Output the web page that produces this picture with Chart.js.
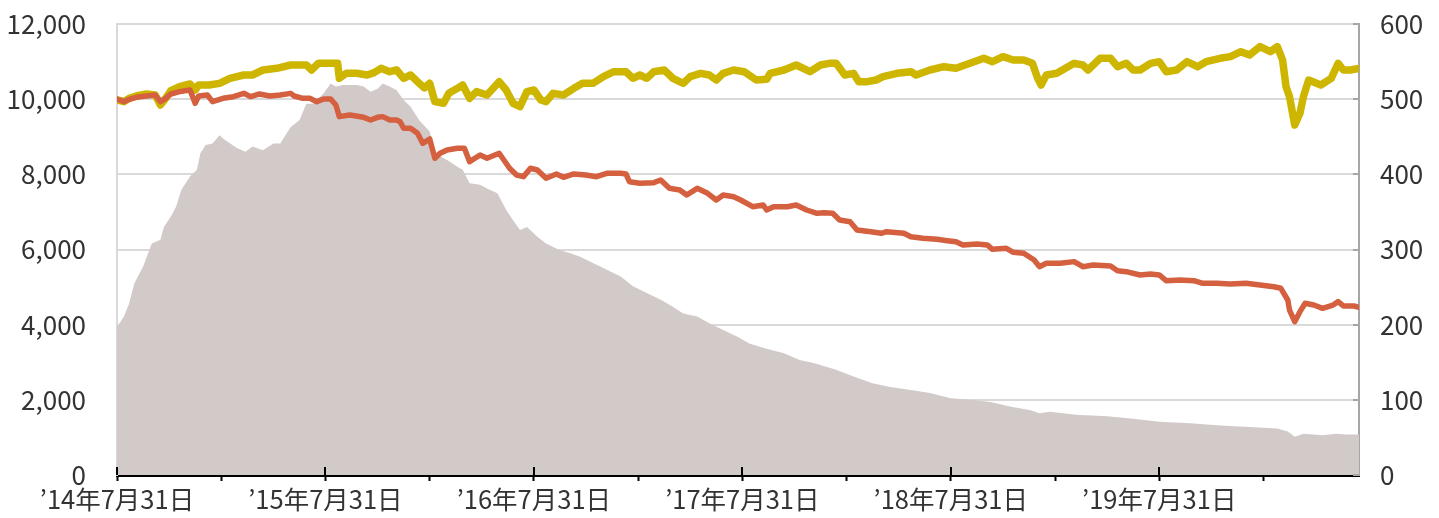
<!DOCTYPE html>
<html>
<head>
<meta charset="utf-8">
<script src="https://cdn.jsdelivr.net/npm/chart.js@4.4.1/dist/chart.umd.min.js"></script>
<style>
  html, body { margin: 0; padding: 0; background: #fff; }
  #wrap { width: 1439px; height: 518px; }
</style>
</head>
<body>
<div id="wrap"><canvas id="myChart" width="1439" height="518"></canvas></div>
<script>
// x = months since '14/7/31
const xTickLabels = ['’14年7月31日', '’15年7月31日', '’16年7月31日', '’17年7月31日', '’18年7月31日', '’19年7月31日'];

// 純資産総額 (right axis)
const assetX = [0.0, 0.4, 0.7, 1.0, 1.5, 2.0, 2.5, 2.7, 3.1, 3.4, 3.7, 4.2, 4.6, 4.8, 5.1, 5.5, 5.9, 6.2, 6.9, 7.4,
  7.8, 8.4, 9.0, 9.4, 10.0, 10.5, 10.9, 11.3, 11.9, 12.3, 12.6, 13.0, 13.8, 14.2, 14.6, 15.0, 15.3, 15.7, 16.1, 16.5,
  16.9, 17.4, 18.0, 18.3, 19.0, 19.6, 19.9, 20.3, 20.9, 21.3, 21.9, 22.4, 22.8, 23.2, 23.6, 24.2, 24.7, 25.5, 26.1, 26.7,
  27.4, 28.2, 29.0, 29.7, 30.5, 31.3, 32.0, 32.6, 33.4, 34.1, 34.9, 35.8, 36.4, 37.4, 38.4, 39.3, 40.1, 41.4, 42.4, 43.5,
  44.5, 45.7, 46.8, 48.0, 49.1, 50.3, 51.4, 52.6, 53.1, 53.7, 55.2, 57.0, 58.5, 60.0, 61.8, 63.5, 65.2, 66.8, 67.4, 67.8,
  68.3, 69.4, 70.2, 70.8, 71.5];
const assetValues = [197, 211, 228, 255, 277, 308, 313, 330, 344, 357, 379, 397, 406, 428, 439, 441, 452, 446, 435, 430,
  437, 432, 441, 441, 463, 472, 494, 494, 508, 521, 517, 519, 519, 517, 510, 514, 521, 517, 512, 499,
  490, 472, 457, 428, 419, 410, 406, 388, 386, 381, 375, 353, 339, 326, 330, 317, 308, 299, 295, 290,
  282, 273, 264, 251, 242, 233, 224, 215, 211, 202, 193, 183, 175, 168, 162, 153, 149, 140, 131, 122,
  117, 113, 109, 102, 100, 97, 91, 86, 82, 84, 80, 78, 75, 71, 69, 66, 64, 62, 58, 51,
  55, 53, 55, 54, 54];

// 基準価額 (left axis)
const navX = [0.0, 0.4, 0.7, 1.1, 1.7, 2.2, 2.5, 2.8, 3.1, 3.6, 4.2, 4.5, 4.7, 5.2, 5.5, 6.1, 6.7, 7.3, 7.7, 8.2,
  8.8, 9.4, 10.0, 10.2, 10.7, 11.1, 11.5, 11.9, 12.3, 12.6, 12.8, 13.4, 14.2, 14.6, 15.0, 15.3, 15.7, 16.1, 16.3, 16.5,
  16.9, 17.3, 17.6, 18.0, 18.3, 18.6, 19.0, 19.6, 20.0, 20.3, 20.9, 21.3, 22.0, 22.6, 23.0, 23.4, 23.8, 24.2, 24.7, 25.3,
  25.7, 26.3, 27.0, 27.6, 28.2, 29.0, 29.3, 29.5, 30.1, 30.9, 31.3, 31.8, 32.4, 32.8, 33.4, 34.0, 34.5, 34.9, 35.5, 35.9,
  36.6, 37.2, 37.4, 37.8, 38.6, 39.1, 39.7, 40.3, 40.7, 41.2, 41.6, 42.2, 42.6, 43.4, 44.0, 44.3, 45.3, 45.7, 46.4, 47.2,
  47.8, 48.3, 48.7, 49.5, 50.1, 50.4, 51.2, 51.6, 52.2, 52.8, 53.1, 53.5, 54.3, 55.1, 55.6, 56.2, 57.2, 57.6, 58.1, 58.9,
  59.5, 60.0, 60.4, 61.2, 62.0, 62.5, 63.3, 64.1, 65.0, 65.8, 66.6, 67.0, 67.4, 67.5, 67.8, 68.1, 68.4, 68.9, 69.4, 70.0,
  70.3, 70.6, 71.2, 71.5];
const navValues = [10004, 9933, 9996, 10050, 10084, 10111, 9933, 10022, 10138, 10200, 10244, 9890, 10084, 10111, 9933, 10022, 10066, 10155, 10066, 10138,
  10084, 10111, 10155, 10084, 10022, 10022, 9933, 10004, 10004, 9845, 9535, 9579, 9517, 9446, 9517, 9535, 9446, 9446, 9401, 9224,
  9224, 9091, 8826, 8940, 8427, 8560, 8648, 8693, 8693, 8337, 8515, 8427, 8560, 8161, 7982, 7937, 8161, 8115, 7894, 8009,
  7921, 8009, 7982, 7937, 8027, 8027, 8009, 7804, 7761, 7778, 7849, 7628, 7583, 7450, 7628, 7495, 7317, 7450, 7405, 7317,
  7139, 7184, 7051, 7139, 7139, 7184, 7051, 6963, 6980, 6963, 6785, 6740, 6519, 6474, 6431, 6474, 6431, 6341, 6298, 6271,
  6234, 6208, 6120, 6146, 6120, 6005, 6032, 5925, 5899, 5721, 5543, 5633, 5633, 5677, 5543, 5588, 5561, 5437, 5410, 5322,
  5348, 5322, 5170, 5189, 5170, 5101, 5101, 5082, 5101, 5056, 5010, 4968, 4656, 4390, 4079, 4346, 4569, 4523, 4435, 4523,
  4612, 4497, 4497, 4462];

// 基準価額（分配金再投資） (left axis)
const reinvX = [0.0, 0.4, 0.7, 1.1, 1.7, 2.2, 2.5, 2.8, 3.1, 3.6, 4.2, 4.5, 4.7, 5.3, 5.9, 6.5, 7.3, 7.8, 8.4, 9.2,
  10.0, 10.5, 10.9, 11.2, 11.6, 12.3, 12.7, 12.8, 13.2, 13.8, 14.4, 14.8, 15.2, 15.7, 16.1, 16.5, 16.9, 17.4, 17.7, 18.0,
  18.3, 18.8, 19.1, 19.6, 19.9, 20.3, 20.7, 21.3, 22.0, 22.4, 22.8, 23.2, 23.6, 24.0, 24.4, 24.7, 25.1, 25.7, 26.3, 26.8,
  27.4, 28.0, 28.6, 29.3, 29.7, 30.1, 30.5, 30.9, 31.5, 32.0, 32.6, 33.0, 33.6, 34.1, 34.5, 34.9, 35.5, 36.1, 36.8, 37.4,
  37.6, 38.4, 39.1, 39.9, 40.5, 41.0, 41.4, 41.9, 42.4, 42.7, 43.2, 43.7, 44.1, 44.9, 45.7, 46.0, 46.8, 47.6, 48.3, 49.1,
  49.9, 50.4, 51.0, 51.6, 52.2, 52.7, 53.0, 53.2, 53.5, 54.1, 55.1, 55.6, 55.9, 56.6, 57.2, 57.6, 58.1, 58.5, 58.9, 59.5,
  60.0, 60.4, 61.0, 61.6, 62.2, 62.7, 63.5, 64.1, 64.7, 65.2, 65.8, 66.4, 66.8, 67.1, 67.3, 67.5, 67.8, 68.1, 68.3, 68.6,
  69.3, 69.9, 70.3, 70.6, 71.0, 71.5];
const reinvValues = [9978, 9933, 10022, 10084, 10138, 10111, 9845, 10022, 10226, 10332, 10404, 10244, 10377, 10377, 10421, 10555, 10643, 10643, 10776, 10821,
  10909, 10909, 10909, 10776, 10954, 10954, 10954, 10555, 10688, 10688, 10643, 10705, 10821, 10731, 10776, 10555, 10643, 10420, 10300, 10421,
  9933, 9890, 10155, 10288, 10377, 10022, 10200, 10111, 10465, 10244, 9890, 9800, 10200, 10244, 9978, 9933, 10155, 10111, 10288, 10421,
  10421, 10599, 10731, 10731, 10555, 10643, 10555, 10731, 10776, 10555, 10421, 10599, 10688, 10643, 10510, 10688, 10776, 10731, 10510, 10528,
  10688, 10776, 10909, 10731, 10909, 10954, 10954, 10643, 10688, 10465, 10465, 10510, 10599, 10688, 10731, 10643, 10776, 10864, 10821, 10954,
  11087, 10998, 11131, 11042, 11042, 10954, 10555, 10377, 10643, 10688, 10954, 10909, 10776, 11087, 11087, 10864, 10954, 10776, 10776, 10954,
  10998, 10731, 10776, 10998, 10864, 10998, 11087, 11131, 11264, 11175, 11397, 11264, 11397, 11042, 10332, 10066, 9313, 9624, 10066, 10510,
  10377, 10555, 10954, 10776, 10776, 10821];

const leftTicks = [0, 2000, 4000, 6000, 8000, 10000, 12000];
const rightTicks = [0, 100, 200, 300, 400, 500, 600];

const pts = (xs, ys) => xs.map((x, i) => ({ x: x, y: ys[i] }));

const FONT = '"Noto Sans CJK JP", "Noto Sans", sans-serif';

// 年の目盛は軸の上下に、右軸は内側に短い目盛
const tickMarks = {
    id: 'tickMarks',
    afterDraw(chart) {
        const ctx = chart.ctx;
        const xs = chart.scales.x;
        const ys = chart.scales.y2;
        ctx.save();
        ctx.strokeStyle = '#000';
        ctx.lineWidth = 2;
        for (let i = 0; i < xTickLabels.length; i++) {
            const px = Math.round(xs.getPixelForValue(i * 12));
            ctx.beginPath();
            ctx.moveTo(px, xs.top - 8);
            ctx.lineTo(px, xs.top);
            ctx.stroke();
        }
        ctx.strokeStyle = '#a6a6a6';
        for (const v of rightTicks) {
            const py = Math.round(ys.getPixelForValue(v));
            ctx.beginPath();
            ctx.moveTo(ys.left - 6, py);
            ctx.lineTo(ys.left, py);
            ctx.stroke();
        }
        ctx.restore();
    }
};

const config = {
    type: 'line',
    data: {
        datasets: [
            {
                label: '基準価額',
                data: pts(navX, navValues),
                yAxisID: 'y',
                borderColor: '#d4603f',
                borderWidth: 5.5,
                pointRadius: 0,
                tension: 0,
                borderJoinStyle: 'round',
                borderCapStyle: 'round',
                order: 1
            },
            {
                label: '基準価額（分配金再投資）',
                data: pts(reinvX, reinvValues),
                yAxisID: 'y',
                borderColor: '#cdb500',
                borderWidth: 7.5,
                pointRadius: 0,
                tension: 0,
                borderJoinStyle: 'round',
                borderCapStyle: 'round',
                order: 2
            },
            {
                label: '純資産総額',
                data: pts(assetX, assetValues),
                yAxisID: 'y2',
                borderWidth: 0,
                backgroundColor: '#d2cac8',
                fill: 'origin',
                pointRadius: 0,
                tension: 0,
                order: 3
            }
        ]
    },
    options: {
        responsive: false,
        animation: false,
        layout: { padding: { top: 24, right: 0, bottom: 0, left: 0 } },
        plugins: {
            legend: { display: false },
            tooltip: { enabled: false }
        },
        scales: {
            x: {
                type: 'linear',
                min: 0,
                max: 71.5,
                afterBuildTicks: (scale) => {
                    const t = [];
                    for (let v = 0; v <= 66; v += 6) t.push({ value: v });
                    scale.ticks = t;
                },
                afterFit: (scale) => { scale.height = 43; },
                border: { color: '#000', width: 3 },
                grid: {
                    drawOnChartArea: false,
                    drawTicks: true,
                    tickLength: 6,
                    tickColor: '#000',
                    tickWidth: 2
                },
                ticks: {
                    autoSkip: false,
                    maxRotation: 0,
                    padding: 3,
                    color: '#333',
                    font: { family: FONT, size: 25.5 },
                    callback: (v) => (v % 12 === 0 ? xTickLabels[v / 12] : '')
                }
            },
            y: {
                position: 'left',
                min: 0,
                max: 12000,
                afterBuildTicks: (scale) => { scale.ticks = leftTicks.map(v => ({ value: v })); },
                afterFit: (scale) => { scale.width = 117; },
                border: { color: '#d9d9d9', width: 2 },
                // transparent tick marks give the label gap without adding top padding
                grid: { color: '#d9d9d9', lineWidth: 2, drawTicks: true, tickLength: 31, tickColor: 'rgba(0,0,0,0)' },
                ticks: {
                    padding: 0,
                    color: '#333',
                    font: { family: FONT, size: 26 },
                    callback: (v) => v.toLocaleString('en-US')
                }
            },
            y2: {
                position: 'right',
                min: 0,
                max: 600,
                afterBuildTicks: (scale) => { scale.ticks = rightTicks.map(v => ({ value: v })); },
                afterFit: (scale) => { scale.width = 80; },
                border: { color: '#a6a6a6', width: 2 },
                grid: { drawOnChartArea: false, drawTicks: true, tickLength: 21, tickColor: 'rgba(0,0,0,0)' },
                ticks: {
                    padding: 0,
                    color: '#333',
                    font: { family: FONT, size: 26 }
                }
            }
        }
    },
    plugins: [tickMarks]
};

new Chart(document.getElementById('myChart'), config);
</script>
</body>
</html>
